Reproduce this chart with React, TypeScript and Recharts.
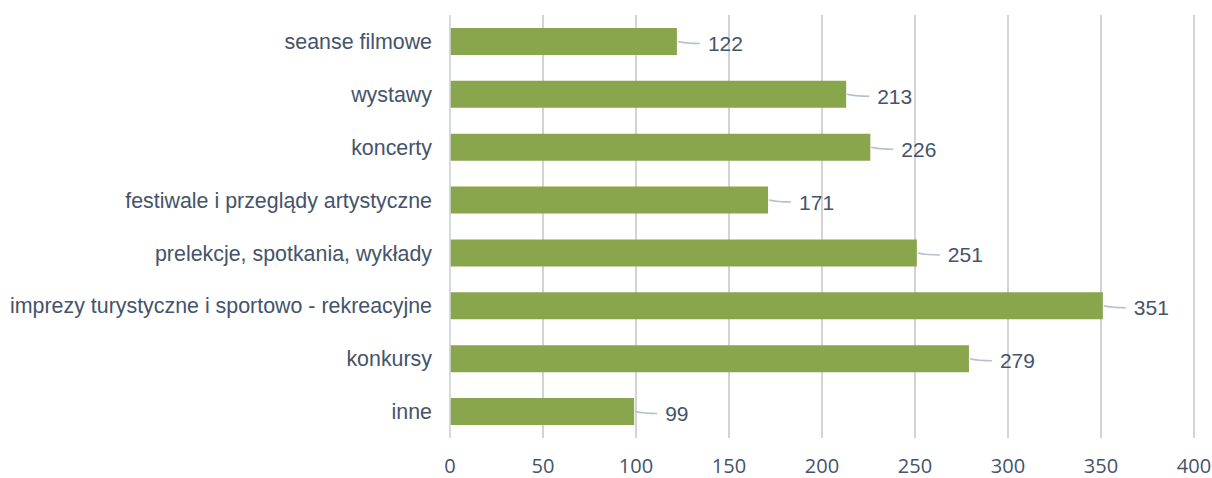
import { BarChart, Bar, XAxis, YAxis, CartesianGrid, ReferenceLine, LabelList } from 'recharts';

const categories = [
  'seanse filmowe',
  'wystawy',
  'koncerty',
  'festiwale i przeglądy artystyczne',
  'prelekcje, spotkania, wykłady',
  'imprezy turystyczne i sportowo - rekreacyjne',
  'konkursy',
  'inne',
];
const counts = [122, 213, 226, 171, 251, 351, 279, 99];
const xTicks = [0, 50, 100, 150, 200, 250, 300, 350, 400];

const data = categories.map((name, i) => ({ name, value: counts[i] }));

const TEXT = '#44546a';
const LABEL_FONT = '"Liberation Sans", Arial, sans-serif';

function ValueLabel(props: any) {
  const { x, y, width, height, value } = props;
  const x0 = x + width + 1;
  const cy = y + height / 2;
  return (
    <g>
      <path
        d={`M${x0},${cy} Q${x0 + 8},${cy + 2} ${x0 + 22},${cy + 2}`}
        stroke="#b4c0cc"
        strokeWidth={1.5}
        fill="none"
      />
      <text
        x={x0 + 30}
        y={cy + 2}
        dominantBaseline="central"
        fill={TEXT}
        fontSize={21}
        fontFamily={LABEL_FONT}
      >
        {value}
      </text>
    </g>
  );
}

export default function App() {
  return (
    <div style={{ position: 'absolute', left: 0, top: 0, background: '#fff' }}>
      <BarChart
        width={1212}
        height={478}
        data={data}
        layout="vertical"
        margin={{ top: 15, right: 18, bottom: 0, left: 0 }}
        barCategoryGap="24.5%"
      >
        <CartesianGrid horizontal={false} vertical stroke="#c4c4c4" strokeWidth={1.5} />
        <XAxis
          type="number"
          domain={[0, 400]}
          ticks={xTicks}
          height={40}
          axisLine={false}
          tickLine={false}
          tickMargin={15}
          tick={{ fill: TEXT, fontSize: 20, fontFamily: '"Open Sans", sans-serif' }}
        />
        <YAxis
          type="category"
          dataKey="name"
          width={450}
          axisLine={false}
          tickLine={false}
          tickMargin={12}
          interval={0}
          tick={{ fill: TEXT, fontSize: 21.4, fontFamily: LABEL_FONT }}
        />
        <ReferenceLine x={0} stroke="#d6dde6" strokeWidth={1.5} />
        <Bar dataKey="value" fill="#8aa64d" isAnimationActive={false}>
          <LabelList dataKey="value" content={<ValueLabel />} />
        </Bar>
      </BarChart>
    </div>
  );
}
